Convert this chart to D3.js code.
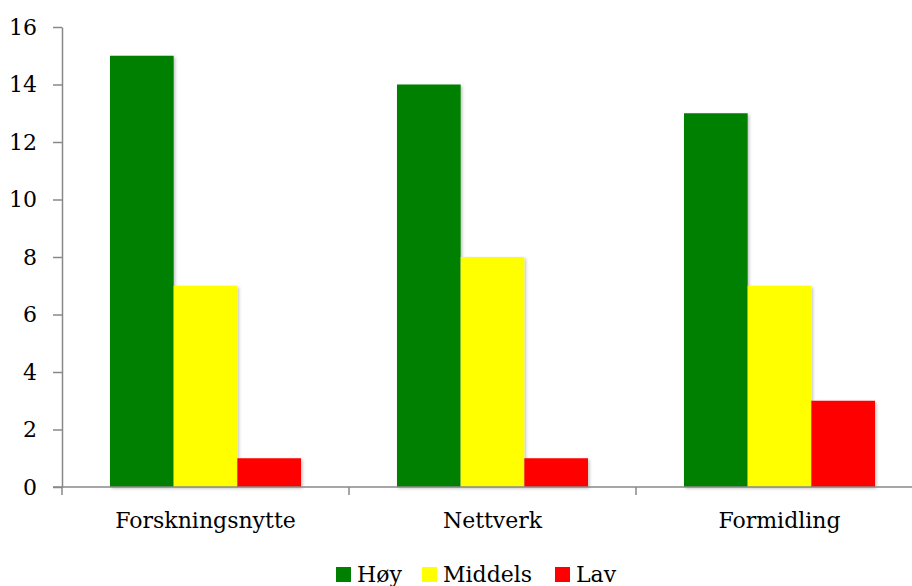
<!DOCTYPE html>
<html><head><meta charset="utf-8">
<script src="https://cdn.jsdelivr.net/npm/d3@7"></script>
<style>body{margin:0;background:#fff}svg{display:block}text{font-family:"DejaVu Serif","Liberation Serif",serif;fill:#000}</style>
</head><body>
<svg id="c" width="912" height="586"></svg>
<script>
const categories = ["Forskningsnytte", "Nettverk", "Formidling"];
const seriesNames = ["Høy", "Middels", "Lav"];
const hoy = [15, 14, 13];
const middels = [7, 8, 7];
const lav = [1, 1, 3];
const colors = ["#008000", "#ffff00", "#ff0000"];
const yTicks = [0, 2, 4, 6, 8, 10, 12, 14, 16];

const values = [hoy, middels, lav];
const svg = d3.select("#c");
const fs = 22;

const x = d3.scaleBand().domain(categories).range([62, 923]).paddingInner(0).paddingOuter(0);
const y = d3.scaleLinear().domain([0, 16]).range([487, 27]);
const inner = d3.scaleBand().domain(seriesNames).range([48, x.bandwidth() - 48]);

const defs = svg.append("defs");
const f = defs.append("filter").attr("id", "sh").attr("x", "-10%").attr("y", "-10%").attr("width", "130%").attr("height", "130%");
f.append("feDropShadow").attr("dx", 1.5).attr("dy", 1.5).attr("stdDeviation", 1.5).attr("flood-color", "#000").attr("flood-opacity", 0.25);

// bars
categories.forEach((c, i) => {
  const g = svg.append("g").attr("transform", `translate(${x(c)},0)`);
  seriesNames.forEach((s, j) => {
    g.append("rect")
      .attr("x", inner(s)).attr("width", inner.bandwidth())
      .attr("y", y(values[j][i])).attr("height", y(0) - y(values[j][i]))
      .attr("fill", colors[j]).attr("filter", "url(#sh)");
  });
});

// y axis
const ya = svg.append("g").attr("transform", "translate(62,0)")
  .call(d3.axisLeft(y).tickValues(yTicks).tickSize(9).tickPadding(16).tickSizeOuter(0));
ya.select(".domain").attr("stroke", "#888").attr("stroke-width", 1.5);
ya.selectAll(".tick line").attr("stroke", "#888").attr("stroke-width", 1.5);
ya.selectAll(".tick text").attr("font-size", fs).attr("font-family", null);

// x axis
const xa = svg.append("g").attr("transform", `translate(0,${y(0)})`)
  .call(d3.axisBottom(x).tickSize(0).tickPadding(25).tickSizeOuter(0));
xa.select(".domain").remove();
xa.append("line").attr("x1", 53).attr("x2", 923).attr("y1", 0).attr("y2", 0).attr("stroke", "#888").attr("stroke-width", 1.5);
xa.selectAll(".tick text").attr("font-size", fs).attr("font-family", null);
const bounds = categories.map(c => x(c)).concat([x(categories[categories.length - 1]) + x.bandwidth()]);
xa.selectAll(".bt").data(bounds).enter().append("line")
  .attr("x1", d => d).attr("x2", d => d).attr("y1", 0).attr("y2", 8)
  .attr("stroke", "#888").attr("stroke-width", 1.5);

// legend
const legX = [336, 422, 555];
const lg = svg.append("g");
seriesNames.forEach((s, j) => {
  lg.append("rect").attr("x", legX[j]).attr("y", 567).attr("width", 15).attr("height", 15).attr("fill", colors[j]);
  lg.append("text").attr("x", legX[j] + 21).attr("y", 582).attr("font-size", fs).text(s);
});
</script>
</body></html>
